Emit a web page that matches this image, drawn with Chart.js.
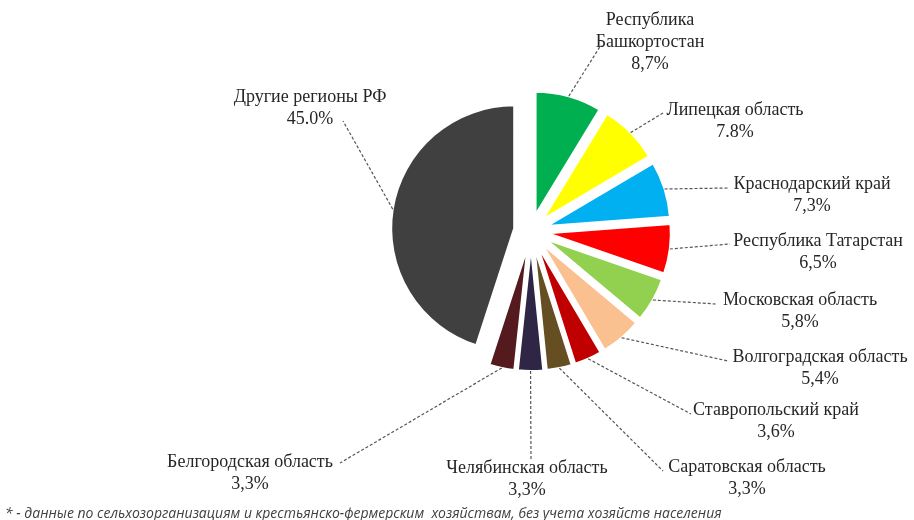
<!DOCTYPE html>
<html><head><meta charset="utf-8">
<script src="https://cdn.jsdelivr.net/npm/chart.js@4/dist/chart.umd.min.js"></script>
<style>html,body{margin:0;padding:0;background:#fff}#wrap{width:914px;height:520px;position:relative}</style>
</head><body><div id="wrap"><canvas id="c" width="914" height="520"></canvas></div>
<script>
// ---- data ----
const regions = [
  ['Республика', 'Башкортостан'],
  ['Липецкая область'],
  ['Краснодарский край'],
  ['Республика Татарстан'],
  ['Московская область'],
  ['Волгоградская область'],
  ['Ставропольский край'],
  ['Саратовская область'],
  ['Челябинская область'],
  ['Белгородская область'],
  ['Другие регионы РФ']
];
const shares = [8.7, 7.8, 7.3, 6.5, 5.8, 5.4, 3.6, 3.3, 3.3, 3.3, 45.0];
const shareLabels = ['8,7%', '7.8%', '7,3%', '6,5%', '5,8%', '5,4%', '3,6%', '3,3%', '3,3%', '3,3%', '45.0%'];
const footnote = '* - данные по сельхозорганизациям и крестьянско-фермерским  хозяйствам, без учета хозяйств населения';

// ---- style ----
const colors = ['#00b050', '#ffff00', '#00b0f0', '#ff0000', '#92d050', '#fac090', '#c00000', '#654f22', '#2e2644', '#551a1e', '#404040'];
const EXPLODE = 17;
const LABEL_FONT = '18px "Liberation Serif", "Times New Roman", serif';
const LINE_H = 22;
// label layout: text centre x, first-line y, leader end point
const labelLayout = [
  {x: 650, y: 20, ax: 601, ay: 45},
  {x: 735, y: 110, ax: 663, ay: 113},
  {x: 812, y: 184, ax: 728, ay: 188},
  {x: 818, y: 241, ax: 730, ay: 244},
  {x: 800, y: 300, ax: 716, ay: 304},
  {x: 820, y: 357, ax: 728, ay: 361},
  {x: 776, y: 410, ax: 691, ay: 414},
  {x: 747, y: 467, ax: 663, ay: 471},
  {x: 527, y: 468, ax: 531, ay: 459},
  {x: 250, y: 462, ax: 340, ay: 463},
  {x: 310, y: 97, ax: 343, ay: 121}
];

const explodePlugin = {
  id: 'explode',
  beforeDatasetDraw(chart, args) {
    const ctx = chart.ctx;
    args.meta.data.forEach(arc => {
      const mid = (arc.startAngle + arc.endAngle) / 2;
      ctx.save();
      ctx.translate(Math.cos(mid) * EXPLODE, Math.sin(mid) * EXPLODE);
      arc.draw(ctx);
      ctx.restore();
    });
    return false;
  }
};

const labelPlugin = {
  id: 'labels',
  afterDraw(chart) {
    const ctx = chart.ctx;
    const meta = chart.getDatasetMeta(0);
    ctx.save();
    meta.data.forEach((arc, i) => {
      const mid = (arc.startAngle + arc.endAngle) / 2;
      const r = arc.outerRadius + EXPLODE;
      const sx = arc.x + Math.cos(mid) * r;
      const sy = arc.y + Math.sin(mid) * r;
      const L = labelLayout[i];
      ctx.setLineDash([3, 2]);
      ctx.strokeStyle = '#555555';
      ctx.lineWidth = 1.2;
      ctx.beginPath();
      ctx.moveTo(sx, sy);
      ctx.lineTo(L.ax, L.ay);
      ctx.stroke();
      ctx.setLineDash([]);
      ctx.fillStyle = '#262626';
      ctx.font = LABEL_FONT;
      ctx.textAlign = 'center';
      ctx.textBaseline = 'middle';
      const lines = regions[i].concat([shareLabels[i]]);
      lines.forEach((t, k) => ctx.fillText(t, L.x, L.y + k * LINE_H));
    });
    ctx.font = 'italic 14px "Open Sans", sans-serif';
    ctx.textAlign = 'left';
    ctx.textBaseline = 'alphabetic';
    ctx.fillStyle = '#404040';
    ctx.fillText(footnote, 5, 518);
    ctx.restore();
  }
};

new Chart(document.getElementById('c'), {
  type: 'pie',
  data: {
    labels: regions.map(r => r.join(' ')),
    datasets: [{
      data: shares,
      backgroundColor: colors,
      borderColor: '#ffffff',
      borderWidth: 2,
      radius: 123
    }]
  },
  options: {
    responsive: false,
    animation: false,
    layout: {padding: {left: 148, right: 0, top: 0, bottom: 58}},
    plugins: {legend: {display: false}, tooltip: {enabled: false}}
  },
  plugins: [explodePlugin, labelPlugin]
});
</script>
</body></html>
